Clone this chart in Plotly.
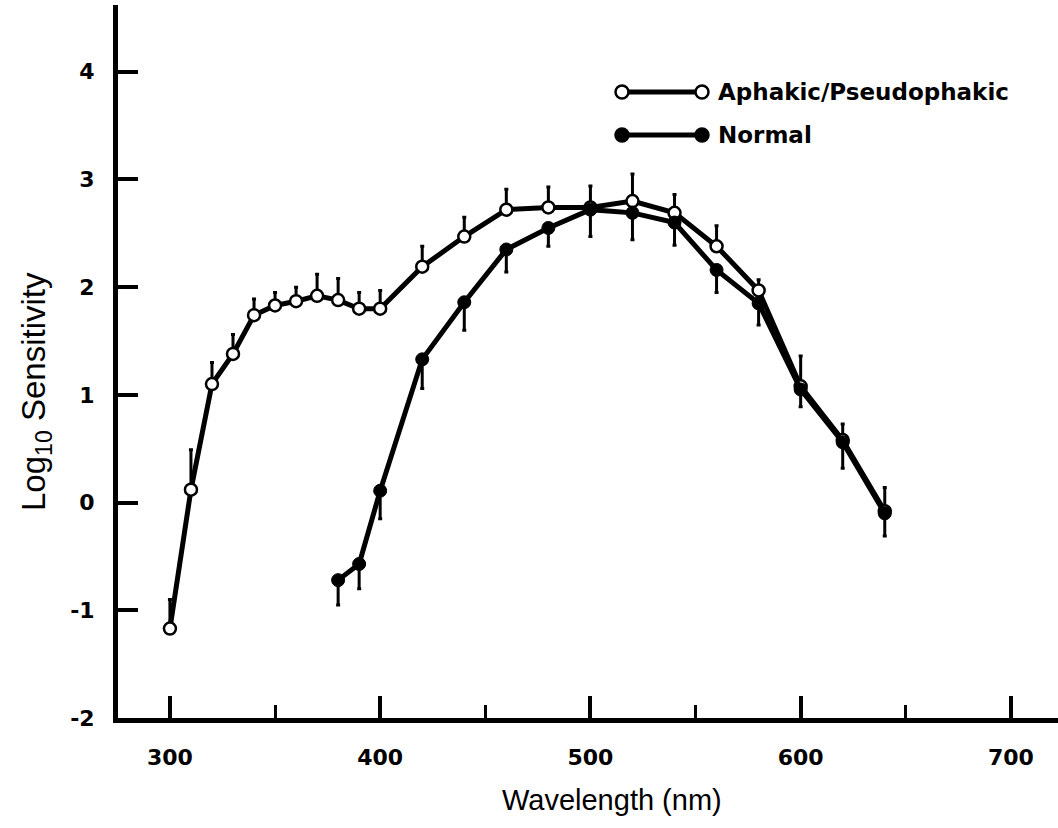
import plotly.graph_objects as go

# Spectral sensitivity data (log10 sensitivity vs wavelength in nm)
wl_aphakic = [300, 310, 320, 330, 340, 350, 360, 370, 380, 390, 400,
              420, 440, 460, 480, 500, 520, 540, 560, 580, 600, 620, 640]
aphakic = [-1.17, 0.12, 1.10, 1.38, 1.74, 1.83, 1.87, 1.92, 1.88, 1.80, 1.80,
           2.19, 2.47, 2.72, 2.74, 2.74, 2.80, 2.69, 2.38, 1.97, 1.08, 0.58, -0.08]
aphakic_err = [0.27, 0.37, 0.20, 0.18, 0.15, 0.12, 0.13, 0.20, 0.20, 0.15, 0.17,
               0.19, 0.18, 0.19, 0.19, 0.20, 0.25, 0.17, 0.19, 0.10, 0.28, 0.15, 0.22]

wl_normal = [380, 390, 400, 420, 440, 460, 480, 500, 520, 540, 560, 580, 600, 620, 640]
normal = [-0.72, -0.57, 0.11, 1.33, 1.86, 2.35, 2.55, 2.72, 2.69, 2.60, 2.16, 1.85,
          1.05, 0.56, -0.10]
normal_err = [0.23, 0.23, 0.26, 0.27, 0.26, 0.21, 0.17, 0.25, 0.25, 0.21, 0.21, 0.20,
              0.16, 0.24, 0.21]

y_ticks = [-2, -1, 0, 1, 2, 3, 4]
y_tick_text = ["-2", "-1", "0", "1", "2", "3", "4"]
x_ticks = [300, 400, 500, 600, 700]

series_names = ["Aphakic/Pseudophakic", "Normal"]
x_title = "Wavelength (nm)"
y_title = "Log<sub>10</sub> Sensitivity"

INK = "black"
TICK_FONT = dict(family="DejaVu Sans", size=22, color=INK, weight="bold")
TITLE_FONT = dict(family="Liberation Sans Narrow, Liberation Sans", size=29, color=INK)

fig = go.Figure()

fig.add_trace(go.Scatter(
    x=wl_aphakic, y=aphakic, mode="lines+markers", name=series_names[0],
    line=dict(color=INK, width=5),
    marker=dict(symbol="circle", size=12, color="white", line=dict(color=INK, width=2.5)),
    error_y=dict(type="data", symmetric=False, array=aphakic_err,
                 arrayminus=[0] * len(aphakic_err), color=INK, thickness=3, width=2),
    showlegend=False,
))

fig.add_trace(go.Scatter(
    x=wl_normal, y=normal, mode="lines+markers", name=series_names[1],
    line=dict(color=INK, width=5),
    marker=dict(symbol="circle", size=13, color=INK, line=dict(color=INK, width=1)),
    error_y=dict(type="data", symmetric=False, array=[0] * len(normal_err),
                 arrayminus=normal_err, color=INK, thickness=3, width=2),
    showlegend=False,
))

# Plot-area placement in pixels
L, T, W, H = 118, 5, 940, 713


def px_to_paper(px, py):
    return (px - L) / W, (T + H - py) / H


# Key: a line with a marker at each end, followed by the label
key_rows = [(series_names[0], 92, "white"), (series_names[1], 135, INK)]
for label, py, fill in key_rows:
    x0, y0 = px_to_paper(622, py)
    x1, _ = px_to_paper(702, py)
    fig.add_shape(type="line", xref="paper", yref="paper", x0=x0, x1=x1, y0=y0, y1=y0,
                  line=dict(color=INK, width=5))
    for xa in (x0, x1):
        fig.add_shape(type="circle", xref="paper", yref="paper",
                      xsizemode="pixel", ysizemode="pixel", xanchor=xa, yanchor=y0,
                      x0=-6.5, x1=6.5, y0=-6.5, y1=6.5,
                      fillcolor=fill, line=dict(color=INK, width=2.5))
    tx, _ = px_to_paper(716, py)
    fig.add_annotation(x=tx, y=y0, xref="paper", yref="paper", text=label,
                       showarrow=False, xanchor="left", yanchor="middle",
                       font=dict(family="DejaVu Sans", size=23, color=INK, weight="bold"))

# Axis titles placed as annotations
xt, yt = px_to_paper(612, 800)
fig.add_annotation(x=xt, y=yt, xref="paper", yref="paper", text=x_title,
                   showarrow=False, xanchor="center", yanchor="middle", font=TITLE_FONT)
xt, yt = px_to_paper(36, 392)
fig.add_annotation(x=xt, y=yt, xref="paper", yref="paper", text=y_title, textangle=-90,
                   showarrow=False, xanchor="center", yanchor="middle",
                   font=dict(family="Liberation Sans Narrow, Liberation Sans", size=33,
                             color=INK))

fig.update_layout(
    width=1058, height=828,
    margin=dict(l=L, r=0, t=T, b=828 - T - H, pad=0),
    paper_bgcolor="white", plot_bgcolor="white",
    showlegend=False,
)

fig.update_xaxes(
    range=[275.3, 722.4], showgrid=False, zeroline=False,
    showline=True, linecolor=INK, linewidth=5,
    tickmode="array", tickvals=x_ticks,
    ticks="inside", ticklen=22, tickwidth=4, tickcolor=INK,
    minor=dict(tickmode="linear", tick0=350, dtick=100, ticks="inside",
               ticklen=13, tickwidth=3, tickcolor=INK),
    tickfont=TICK_FONT, ticklabelstandoff=16,
)

fig.update_yaxes(
    range=[-2, 4.62], showgrid=False, zeroline=False,
    showline=True, linecolor=INK, linewidth=5,
    tickmode="array", tickvals=y_ticks, ticktext=y_tick_text,
    ticks="inside", ticklen=20, tickwidth=4, tickcolor=INK,
    tickfont=TICK_FONT, ticklabelstandoff=14,
)

fig.write_html("out.html")
